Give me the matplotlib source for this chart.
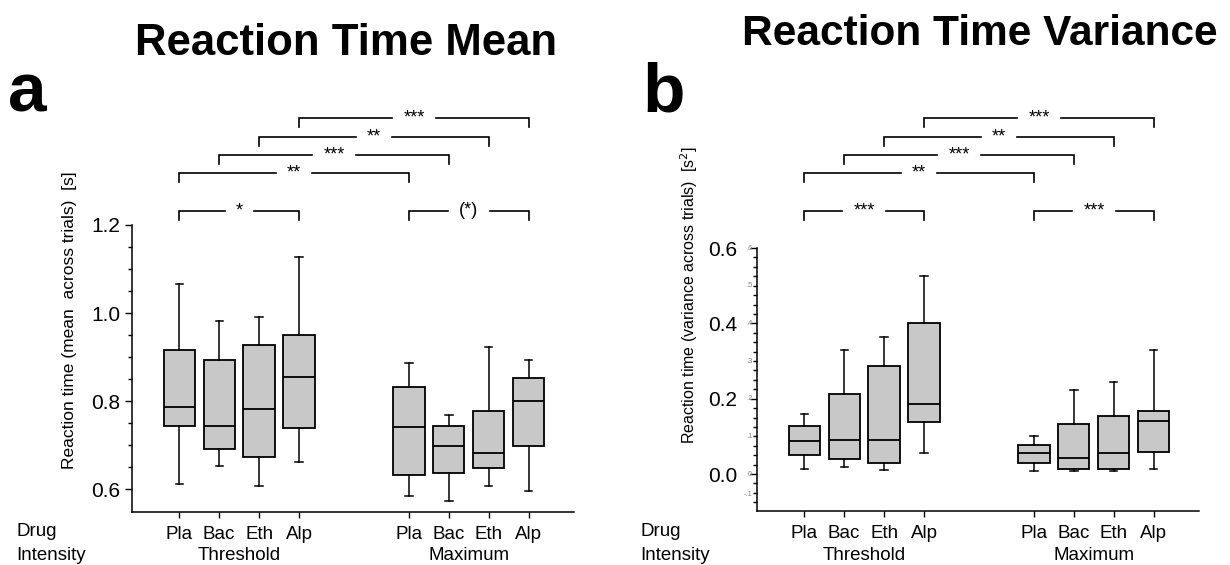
#importing required libraries
import matplotlib
matplotlib.use('Agg')
import matplotlib.pyplot as plt
import matplotlib.transforms as mtransforms

plt.rcParams['font.family'] = ['Liberation Sans', 'DejaVu Sans']

#Data section
drugs = ['Pla', 'Bac', 'Eth', 'Alp']
intensities = ['Threshold', 'Maximum']

#reaction time mean [s], threshold intensity
mean_thr_lo = [0.611, 0.652, 0.607, 0.661]
mean_thr_q1 = [0.743, 0.690, 0.672, 0.738]
mean_thr_med = [0.786, 0.743, 0.781, 0.855]
mean_thr_q3 = [0.917, 0.893, 0.928, 0.950]
mean_thr_hi = [1.065, 0.983, 0.991, 1.128]
#reaction time mean [s], maximum intensity
mean_max_lo = [0.585, 0.574, 0.607, 0.596]
mean_max_q1 = [0.633, 0.636, 0.647, 0.697]
mean_max_med = [0.740, 0.697, 0.683, 0.800]
mean_max_q3 = [0.833, 0.743, 0.778, 0.853]
mean_max_hi = [0.887, 0.768, 0.922, 0.893]

#reaction time variance [s^2], threshold intensity
var_thr_lo = [0.014, 0.018, 0.011, 0.055]
var_thr_q1 = [0.051, 0.040, 0.030, 0.139]
var_thr_med = [0.088, 0.091, 0.091, 0.187]
var_thr_q3 = [0.128, 0.212, 0.288, 0.401]
var_thr_hi = [0.160, 0.329, 0.365, 0.526]
#reaction time variance [s^2], maximum intensity
var_max_lo = [0.008, 0.008, 0.008, 0.014]
var_max_q1 = [0.029, 0.014, 0.014, 0.059]
var_max_med = [0.055, 0.043, 0.055, 0.142]
var_max_q3 = [0.077, 0.132, 0.153, 0.168]
var_max_hi = [0.102, 0.223, 0.245, 0.329]

#significance: (first box index, second box index, label)
sig_mean = [(0, 3, '*'), (4, 7, '(*)'), (0, 4, '**'), (1, 5, '***'), (2, 6, '**'), (3, 7, '***')]
sig_var = [(0, 3, '***'), (4, 7, '***'), (0, 4, '**'), (1, 5, '***'), (2, 6, '**'), (3, 7, '***')]

#layout
W, H = 1230, 565
positions = [1, 2, 3, 4, 6.75, 7.75, 8.75, 9.75]
bracket_rows = [210.7, 210.7, 173.3, 155.0, 136.7, 118.3]  #pixels from top
fill = '#c8c8c8'


def make_stats(lo, q1, med, q3, hi):
    stats = []
    for i in range(len(lo)):
        stats.append({'whislo': lo[i], 'q1': q1[i], 'med': med[i], 'q3': q3[i], 'whishi': hi[i], 'fliers': []})
    return stats


def draw_boxes(ax, stats):
    ax.bxp(stats, positions=positions, widths=0.78, patch_artist=True, showfliers=False,
           boxprops=dict(facecolor=fill, edgecolor='black', linewidth=1.3),
           medianprops=dict(color='black', linewidth=1.3),
           whiskerprops=dict(color='black', linewidth=1.1),
           capprops=dict(color='black', linewidth=1.1),
           capwidths=0.18)


def draw_brackets(fig, ax, sig):
    trans = mtransforms.blended_transform_factory(ax.transData, fig.transFigure)
    drop = 9.0 / H
    fig.canvas.draw()
    renderer = fig.canvas.get_renderer()
    x0, x1_ = ax.get_xlim()
    px_per_unit = ax.get_window_extent().width / (x1_ - x0)
    for (a, b, lab), row in zip(sig, bracket_rows):
        x1, x2 = positions[a], positions[b]
        xm = (x1 + x2) / 2
        y = 1 - row / H
        t = ax.text(xm, y, lab, transform=trans, ha='center', va='center', fontsize=13)
        half = (t.get_window_extent(renderer).width / 2 + 11) / px_per_unit
        ax.plot([x1, x1, xm - half], [y - drop, y, y], color='black', lw=1.2,
                transform=trans, clip_on=False, solid_joinstyle='miter')
        ax.plot([xm + half, x2, x2], [y, y, y - drop], color='black', lw=1.2,
                transform=trans, clip_on=False, solid_joinstyle='miter')


def style_axis(ax):
    ax.spines['top'].set_visible(False)
    ax.spines['right'].set_visible(False)
    ax.set_xlim(-0.18, 10.88)
    ax.set_xticks(positions)
    ax.set_xticklabels(drugs * 2, fontsize=13.5)
    ax.tick_params(axis='x', length=4, width=1, pad=6)
    ax.tick_params(axis='y', which='major', length=5, width=1, labelsize=15)
    ax.tick_params(axis='y', which='minor', length=3, width=1)
    for s in ['left', 'bottom']:
        ax.spines[s].set_linewidth(1.1)


def group_labels(fig, ax):
    trans = mtransforms.blended_transform_factory(ax.transData, fig.transFigure)
    ax.text((positions[0] + positions[3]) / 2, 1 - 555 / H, intensities[0], transform=trans,
            ha='center', va='center', fontsize=13.5)
    ax.text((positions[4] + positions[7]) / 2, 1 - 555 / H, intensities[1], transform=trans,
            ha='center', va='center', fontsize=13.5)


fig = plt.figure(figsize=(W / 100, H / 100), dpi=100)

#Panel a
ax1 = fig.add_axes([132 / W, 1 - 512 / H, 442 / W, 287 / H])
draw_boxes(ax1, make_stats(mean_thr_lo + mean_max_lo, mean_thr_q1 + mean_max_q1, mean_thr_med + mean_max_med,
                           mean_thr_q3 + mean_max_q3, mean_thr_hi + mean_max_hi))
style_axis(ax1)
ax1.set_ylim(0.548, 1.2)
ax1.set_yticks([0.6, 0.8, 1.0, 1.2])
ax1.set_yticklabels(['0.6', '0.8', '1.0', '1.2'])
ax1.set_yticks([0.65, 0.7, 0.75, 0.85, 0.9, 0.95, 1.05, 1.1, 1.15], minor=True)
draw_brackets(fig, ax1, sig_mean)
group_labels(fig, ax1)
fig.text(70 / W, 1 - 320 / H, 'Reaction time (mean  across trials)  [s]', rotation=90,
         ha='center', va='center', fontsize=12.5)

#Panel b
ax2 = fig.add_axes([757 / W, 1 - 511 / H, 442 / W, 263 / H])
draw_boxes(ax2, make_stats(var_thr_lo + var_max_lo, var_thr_q1 + var_max_q1, var_thr_med + var_max_med,
                           var_thr_q3 + var_max_q3, var_thr_hi + var_max_hi))
style_axis(ax2)
ax2.set_ylim(-0.098, 0.6)
ax2.set_yticks([0.0, 0.2, 0.4, 0.6])
ax2.set_yticklabels(['0.0', '0.2', '0.4', '0.6'])
ax2.tick_params(axis='y', which='major', pad=9)
ax2.set_yticks([-0.075, -0.05, -0.025, 0.025, 0.05, 0.075, 0.1, 0.125, 0.15, 0.175,
                0.225, 0.25, 0.275, 0.3, 0.325, 0.35, 0.375, 0.425, 0.45, 0.475, 0.5,
                0.525, 0.55, 0.575], minor=True)
#faint secondary labels next to the axis
small_pos = [0.6, 0.5, 0.4, 0.3, 0.2, 0.1, 0.0, -0.055]
small_lab = ['.6', '.5', '.4', '.3', '.2', '.1', '0', '-.1']
for p, l in zip(small_pos, small_lab):
    ax2.text(-0.3, p, l, ha='right', va='center', fontsize=5.5, color='#888888', clip_on=False)
draw_brackets(fig, ax2, sig_var)
group_labels(fig, ax2)
fig.text(689 / W, 1 - 295 / H, 'Reaction time (variance across trials)  [s$^2$]', rotation=90,
         ha='center', va='center', fontsize=11.5)

#row captions
for name, yy in [('Drug', 532), ('Intensity', 555)]:
    fig.text(16 / W, 1 - yy / H, name, ha='left', va='center', fontsize=13.5)
    fig.text(640 / W, 1 - yy / H, name, ha='left', va='center', fontsize=13.5)

#titles and panel letters
fig.text(346 / W, 1 - 55 / H, 'Reaction Time Mean', ha='center', va='baseline', fontsize=31.5, fontweight='bold')
fig.text(980 / W, 1 - 45 / H, 'Reaction Time Variance', ha='center', va='baseline', fontsize=30.5, fontweight='bold')
fig.text(8 / W, 1 - 112 / H, 'a', ha='left', va='baseline', fontsize=50, fontweight='bold')
fig.text(642 / W, 1 - 112 / H, 'b', ha='left', va='baseline', fontsize=50, fontweight='bold')

fig.savefig('out.png', dpi=100)
